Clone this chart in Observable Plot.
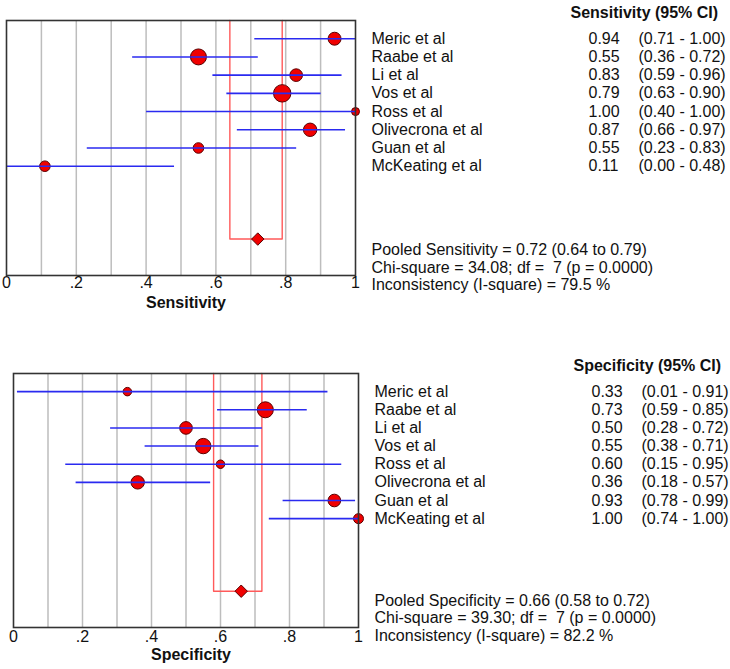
<!DOCTYPE html>
<html>
<head>
<meta charset="utf-8">
<script src="https://cdn.jsdelivr.net/npm/d3@7"></script>
<script src="https://cdn.jsdelivr.net/npm/@observablehq/plot@0.6"></script>
<style>
  html, body { margin: 0; padding: 0; background: #fff; }
  #chart svg { display: block; }
</style>
</head>
<body>
<div id="chart"></div>
<script>
// ---- data ----
const studies = ["Meric et al", "Raabe et al", "Li et al", "Vos et al", "Ross et al", "Olivecrona et al", "Guan et al", "McKeating et al"];

const sensEst = [0.94, 0.55, 0.83, 0.79, 1.00, 0.87, 0.55, 0.11];
const sensLo  = [0.71, 0.36, 0.59, 0.63, 0.40, 0.66, 0.23, 0.00];
const sensHi  = [1.00, 0.72, 0.96, 0.90, 1.00, 0.97, 0.83, 0.48];
const sensWeight = [42, 64, 40, 76, 16, 45, 28, 28];
const sensPooled = {est: 0.72, lo: 0.64, hi: 0.79};
const sensStats = ["Pooled Sensitivity = 0.72 (0.64 to 0.79)", "Chi-square = 34.08; df =  7 (p = 0.0000)", "Inconsistency (I-square) = 79.5 %"];

const specEst = [0.33, 0.73, 0.50, 0.55, 0.60, 0.36, 0.93, 1.00];
const specLo  = [0.01, 0.59, 0.28, 0.38, 0.15, 0.18, 0.78, 0.74];
const specHi  = [0.91, 0.85, 0.72, 0.71, 0.95, 0.57, 0.99, 1.00];
const specWeight = [18, 64, 40, 59, 18, 45, 40, 25];
const specPooled = {est: 0.66, lo: 0.58, hi: 0.72};
const specStats = ["Pooled Specificity = 0.66 (0.58 to 0.72)", "Chi-square = 39.30; df =  7 (p = 0.0000)", "Inconsistency (I-square) = 82.2 %"];

const axisTicks = [0, 0.2, 0.4, 0.6, 0.8, 1];
const gridTicks = [0.1, 0.2, 0.3, 0.4, 0.5, 0.6, 0.7, 0.8, 0.9];

// ---- drawing ----
const FONT = "'Liberation Sans', Arial, sans-serif";
const fmtTick = d => d === 0 ? "0" : d === 1 ? "1" : String(d).replace(/^0/, "");

function panel({est, lo, hi, weight, pooled, stats, label, header, height, marginTop, marginBottom, marginLeft, marginRight, tickPadding, statsDy}) {
  const rows = studies.map((s, i) => ({study: s, row: i, est: est[i], lo: lo[i], hi: hi[i], w: weight[i]}));
  const yTop = -1, yBottom = studies.length + 5;
  const pooledRow = studies.length + 3;
  const pooledPath = [
    {x: pooled.lo, y: yTop}, {x: pooled.lo, y: pooledRow},
    {x: pooled.hi, y: pooledRow}, {x: pooled.hi, y: yTop}
  ];
  const T = {fontSize: 16, fill: "#111", lineAnchor: "middle"};
  return Plot.plot({
    width: 730, height, marginTop, marginBottom, marginLeft, marginRight,
    style: {fontFamily: FONT, fontSize: "16px", color: "#111", background: "#fff"},
    x: {domain: [0, 1]},
    y: {domain: [yTop, yBottom], reverse: true, axis: null},
    r: {type: "sqrt", domain: [0, 100], range: [0, 10]},
    marks: [
      Plot.ruleX(gridTicks, {stroke: "#bdbdbd", strokeWidth: 1.5}),
      Plot.line(pooledPath, {x: "x", y: "y", stroke: "#ff5a5a", strokeWidth: 1.4}),
      Plot.dot(rows, {x: "est", y: "row", r: "w", fill: "#f00000", stroke: "#5a0000", strokeWidth: 1}),
      Plot.link(rows, {x1: "lo", x2: "hi", y1: "row", y2: "row", stroke: "#2a2af0", strokeWidth: 1.6}),
      Plot.dot([pooled], {x: "est", y: () => pooledRow, symbol: "diamond2", r: 5.6, fill: "#f00000", stroke: "#5a0000", strokeWidth: 1}),
      Plot.frame({stroke: "#333", strokeWidth: 1.6}),
      Plot.axisX(axisTicks, {tickSize: 0, tickPadding, tickFormat: fmtTick, label: null, fontSize: 16, fill: "#111"}),
      Plot.text([label], {...T, frameAnchor: "bottom", dx: 5, dy: 27, fontWeight: "bold"}),
      Plot.text([header], {...T, frameAnchor: "top-right", dx: 215, dy: -7.5, textAnchor: "start", fontWeight: "bold"}),
      Plot.text(rows, {...T, y: "row", text: "study", frameAnchor: "right", dx: 16, textAnchor: "start"}),
      Plot.text(rows, {...T, y: "row", text: d => d.est.toFixed(2), frameAnchor: "right", dx: 233, textAnchor: "start"}),
      Plot.text(rows, {...T, y: "row", text: d => `(${d.lo.toFixed(2)} - ${d.hi.toFixed(2)})`, frameAnchor: "right", dx: 283, textAnchor: "start"}),
      Plot.text([stats.join("\n")], {...T, frameAnchor: "bottom-right", dx: 16, dy: statsDy, lineHeight: 1.09, textAnchor: "start"})
    ]
  });
}

const chart = document.getElementById("chart");
chart.append(panel({
  est: sensEst, lo: sensLo, hi: sensHi, weight: sensWeight, pooled: sensPooled, stats: sensStats,
  label: "Sensitivity", header: "Sensitivity (95% CI)",
  height: 320, marginTop: 20, marginBottom: 45, marginLeft: 6, marginRight: 375, tickPadding: 1, statsDy: -8.5
}));
chart.append(panel({
  est: specEst, lo: specLo, hi: specHi, weight: specWeight, pooled: specPooled, stats: specStats,
  label: "Specificity", header: "Specificity (95% CI)",
  height: 349, marginTop: 53, marginBottom: 42, marginLeft: 13, marginRight: 372, tickPadding: 3, statsDy: -10
}));
</script>
</body>
</html>
